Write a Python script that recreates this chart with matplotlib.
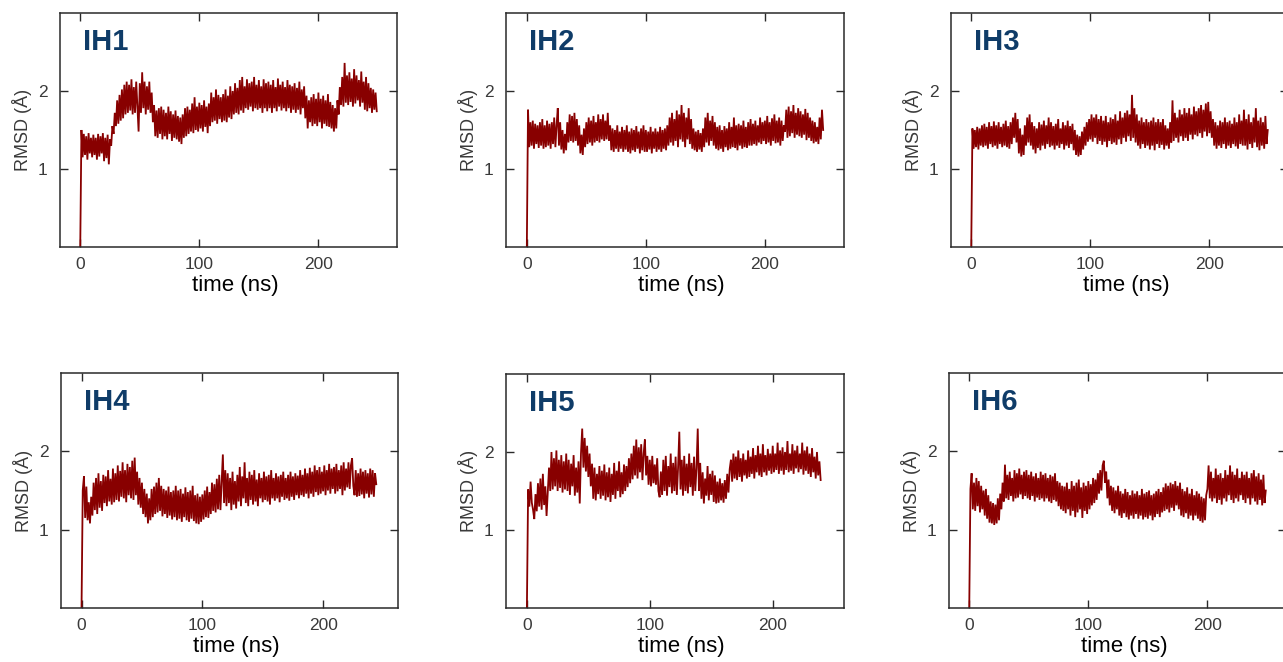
import matplotlib
matplotlib.use("Agg")
import matplotlib.pyplot as plt
import numpy as np

plt.rcParams['font.family'] = ['Liberation Sans', 'DejaVu Sans']

# RMSD traces (Å), one value per ns, starting from the reference frame at t = 0
ih1_rmsd = [
    0.00, 1.50, 1.15, 1.45, 1.18, 1.42, 1.12, 1.46, 1.20, 1.40,
    1.15, 1.44, 1.18, 1.40, 1.12, 1.45, 1.16, 1.42, 1.20, 1.46,
    1.10, 1.40, 1.14, 1.44, 1.06, 1.38, 1.30, 1.55, 1.45, 1.72,
    1.55, 1.88, 1.58, 1.95, 1.62, 2.02, 1.65, 2.08, 1.70, 2.12,
    1.72, 2.08, 1.75, 2.15, 1.70, 2.05, 1.72, 2.12, 1.80, 1.48,
    2.10, 1.72, 2.24, 1.78, 2.12, 1.70, 2.06, 1.76, 2.12, 1.72,
    1.98, 1.60, 1.82, 1.42, 1.75, 1.40, 1.78, 1.45, 1.80, 1.38,
    1.76, 1.42, 1.72, 1.38, 1.80, 1.45, 1.74, 1.36, 1.70, 1.40,
    1.75, 1.38, 1.68, 1.35, 1.66, 1.32, 1.70, 1.40, 1.78, 1.42,
    1.80, 1.45, 1.76, 1.48, 1.84, 1.46, 1.92, 1.50, 1.80, 1.48,
    1.85, 1.52, 1.82, 1.48, 1.88, 1.54, 1.80, 1.46, 1.84, 1.55,
    1.98, 1.60, 1.92, 1.62, 2.02, 1.58, 1.95, 1.64, 1.92, 1.60,
    1.96, 1.62, 2.02, 1.60, 1.94, 1.66, 2.06, 1.64, 2.00, 1.70,
    2.10, 1.72, 2.04, 1.70, 2.14, 1.75, 2.18, 1.72, 2.06, 1.78,
    2.15, 1.76, 2.10, 1.80, 2.12, 1.74, 2.18, 1.78, 2.08, 1.76,
    2.14, 1.78, 2.06, 1.72, 2.15, 1.78, 2.10, 1.74, 2.12, 1.78,
    2.08, 1.72, 2.14, 1.78, 2.05, 1.74, 2.16, 1.80, 2.08, 1.75,
    2.12, 1.78, 2.05, 1.74, 2.14, 1.78, 2.08, 1.72, 2.06, 1.76,
    2.10, 1.72, 2.04, 1.76, 2.12, 1.70, 2.02, 1.78, 2.06, 1.65,
    1.94, 1.52, 1.88, 1.60, 1.92, 1.55, 1.96, 1.58, 1.90, 1.55,
    1.98, 1.60, 1.90, 1.52, 1.94, 1.58, 1.88, 1.55, 1.96, 1.54,
    1.86, 1.52, 1.82, 1.48, 1.78, 1.52, 1.88, 1.70, 2.05, 1.82,
    2.18, 1.80, 2.36, 1.85, 2.20, 1.82, 2.24, 1.86, 2.16, 1.80,
    2.28, 1.84, 2.20, 1.88, 2.14, 1.80, 2.25, 1.85, 2.12, 1.76,
    2.18, 1.74, 2.10, 1.78, 2.04, 1.72, 2.02, 1.76, 1.98, 1.74,
]

ih2_rmsd = [
    0.00, 1.76, 1.28, 1.60, 1.30, 1.62, 1.26, 1.58, 1.32, 1.56,
    1.27, 1.60, 1.30, 1.64, 1.26, 1.56, 1.28, 1.62, 1.30, 1.58,
    1.26, 1.60, 1.32, 1.66, 1.28, 1.56, 1.78, 1.30, 1.60, 1.25,
    1.50, 1.20, 1.45, 1.24, 1.60, 1.34, 1.70, 1.36, 1.68, 1.34,
    1.72, 1.36, 1.64, 1.30, 1.56, 1.20, 1.44, 1.18, 1.52, 1.28,
    1.60, 1.32, 1.66, 1.34, 1.62, 1.30, 1.68, 1.34, 1.60, 1.36,
    1.70, 1.34, 1.64, 1.38, 1.70, 1.36, 1.62, 1.38, 1.72, 1.36,
    1.56, 1.24, 1.52, 1.22, 1.50, 1.26, 1.56, 1.22, 1.48, 1.26,
    1.54, 1.22, 1.50, 1.25, 1.56, 1.22, 1.48, 1.20, 1.52, 1.24,
    1.50, 1.22, 1.55, 1.26, 1.48, 1.20, 1.52, 1.24, 1.56, 1.22,
    1.50, 1.22, 1.48, 1.25, 1.54, 1.20, 1.48, 1.26, 1.52, 1.22,
    1.48, 1.25, 1.54, 1.22, 1.50, 1.26, 1.52, 1.24, 1.56, 1.30,
    1.66, 1.34, 1.72, 1.30, 1.64, 1.36, 1.75, 1.28, 1.70, 1.38,
    1.82, 1.35, 1.72, 1.28, 1.66, 1.38, 1.78, 1.32, 1.64, 1.26,
    1.52, 1.24, 1.48, 1.22, 1.50, 1.25, 1.46, 1.22, 1.52, 1.28,
    1.66, 1.34, 1.72, 1.30, 1.62, 1.36, 1.68, 1.30, 1.60, 1.26,
    1.54, 1.24, 1.56, 1.26, 1.50, 1.22, 1.55, 1.28, 1.52, 1.24,
    1.60, 1.26, 1.54, 1.28, 1.66, 1.27, 1.56, 1.24, 1.58, 1.30,
    1.56, 1.26, 1.62, 1.28, 1.54, 1.27, 1.60, 1.30, 1.64, 1.30,
    1.58, 1.32, 1.62, 1.30, 1.56, 1.34, 1.66, 1.32, 1.60, 1.36,
    1.62, 1.32, 1.68, 1.34, 1.60, 1.30, 1.65, 1.36, 1.70, 1.33,
    1.62, 1.34, 1.66, 1.30, 1.62, 1.36, 1.56, 1.48, 1.76, 1.40,
    1.80, 1.42, 1.74, 1.46, 1.82, 1.40, 1.72, 1.44, 1.78, 1.42,
    1.74, 1.40, 1.70, 1.44, 1.77, 1.37, 1.72, 1.40, 1.66, 1.36,
    1.62, 1.33, 1.60, 1.35, 1.54, 1.32, 1.66, 1.38, 1.76, 1.50,
]

ih3_rmsd = [
    0.00, 1.52, 1.26, 1.50, 1.28, 1.54, 1.25, 1.52, 1.30, 1.56,
    1.28, 1.58, 1.30, 1.54, 1.26, 1.60, 1.32, 1.55, 1.28, 1.61,
    1.30, 1.56, 1.26, 1.60, 1.32, 1.54, 1.28, 1.58, 1.30, 1.62,
    1.28, 1.55, 1.26, 1.60, 1.32, 1.66, 1.40, 1.72, 1.34, 1.64,
    1.20, 1.52, 1.16, 1.44, 1.18, 1.56, 1.30, 1.66, 1.34, 1.70,
    1.30, 1.60, 1.25, 1.55, 1.20, 1.52, 1.27, 1.60, 1.24, 1.57,
    1.30, 1.62, 1.26, 1.56, 1.32, 1.66, 1.28, 1.60, 1.30, 1.55,
    1.25, 1.58, 1.30, 1.64, 1.27, 1.52, 1.32, 1.60, 1.25, 1.56,
    1.30, 1.62, 1.27, 1.55, 1.32, 1.58, 1.24, 1.50, 1.18, 1.44,
    1.16, 1.42, 1.18, 1.48, 1.25, 1.54, 1.30, 1.60, 1.35, 1.64,
    1.38, 1.70, 1.35, 1.66, 1.40, 1.70, 1.32, 1.64, 1.36, 1.68,
    1.31, 1.62, 1.35, 1.68, 1.28, 1.60, 1.36, 1.66, 1.32, 1.64,
    1.34, 1.70, 1.31, 1.62, 1.38, 1.74, 1.32, 1.66, 1.40, 1.72,
    1.35, 1.75, 1.42, 1.70, 1.36, 1.95, 1.40, 1.78, 1.34, 1.70,
    1.30, 1.62, 1.26, 1.66, 1.32, 1.60, 1.27, 1.64, 1.30, 1.60,
    1.25, 1.62, 1.30, 1.66, 1.24, 1.60, 1.32, 1.64, 1.27, 1.60,
    1.31, 1.64, 1.25, 1.56, 1.30, 1.52, 1.26, 1.60, 1.34, 1.88,
    1.36, 1.72, 1.40, 1.66, 1.34, 1.76, 1.42, 1.70, 1.36, 1.78,
    1.40, 1.72, 1.36, 1.78, 1.44, 1.70, 1.38, 1.80, 1.44, 1.74,
    1.42, 1.78, 1.46, 1.82, 1.40, 1.76, 1.48, 1.84, 1.42, 1.86,
    1.46, 1.74, 1.40, 1.64, 1.30, 1.60, 1.26, 1.56, 1.30, 1.62,
    1.27, 1.60, 1.32, 1.66, 1.26, 1.60, 1.30, 1.62, 1.27, 1.58,
    1.32, 1.66, 1.29, 1.60, 1.26, 1.70, 1.32, 1.62, 1.30, 1.76,
    1.30, 1.64, 1.25, 1.70, 1.32, 1.60, 1.27, 1.66, 1.34, 1.78,
    1.28, 1.62, 1.24, 1.66, 1.30, 1.60, 1.26, 1.68, 1.32, 1.50,
]

ih4_rmsd = [
    0.00, 1.50, 1.68, 1.15, 1.55, 1.12, 1.35, 1.08, 1.42, 1.18,
    1.60, 1.25, 1.66, 1.20, 1.72, 1.28, 1.62, 1.24, 1.70, 1.34,
    1.68, 1.30, 1.76, 1.36, 1.65, 1.32, 1.78, 1.35, 1.72, 1.38,
    1.82, 1.36, 1.75, 1.42, 1.86, 1.40, 1.76, 1.35, 1.84, 1.44,
    1.80, 1.40, 1.88, 1.38, 1.92, 1.44, 1.74, 1.32, 1.66, 1.28,
    1.60, 1.20, 1.52, 1.16, 1.46, 1.08, 1.40, 1.12, 1.52, 1.16,
    1.55, 1.20, 1.60, 1.22, 1.66, 1.24, 1.56, 1.17, 1.52, 1.20,
    1.50, 1.15, 1.55, 1.18, 1.48, 1.13, 1.50, 1.16, 1.56, 1.12,
    1.50, 1.14, 1.52, 1.10, 1.46, 1.16, 1.54, 1.12, 1.48, 1.10,
    1.50, 1.14, 1.56, 1.11, 1.44, 1.08, 1.46, 1.07, 1.42, 1.10,
    1.45, 1.13, 1.50, 1.16, 1.55, 1.15, 1.48, 1.20, 1.60, 1.24,
    1.58, 1.22, 1.65, 1.26, 1.70, 1.25, 1.62, 1.96, 1.34, 1.76,
    1.30, 1.72, 1.34, 1.66, 1.25, 1.74, 1.32, 1.62, 1.27, 1.70,
    1.36, 1.80, 1.30, 1.68, 1.40, 1.86, 1.34, 1.66, 1.30, 1.74,
    1.38, 1.70, 1.32, 1.76, 1.36, 1.64, 1.30, 1.72, 1.40, 1.66,
    1.35, 1.74, 1.38, 1.68, 1.36, 1.70, 1.32, 1.76, 1.40, 1.66,
    1.37, 1.72, 1.40, 1.68, 1.35, 1.70, 1.42, 1.74, 1.38, 1.66,
    1.40, 1.70, 1.37, 1.74, 1.42, 1.68, 1.38, 1.72, 1.44, 1.69,
    1.40, 1.76, 1.44, 1.70, 1.42, 1.78, 1.46, 1.72, 1.40, 1.79,
    1.46, 1.74, 1.42, 1.82, 1.48, 1.76, 1.44, 1.80, 1.46, 1.74,
    1.49, 1.82, 1.44, 1.76, 1.50, 1.84, 1.46, 1.78, 1.52, 1.80,
    1.46, 1.84, 1.49, 1.76, 1.52, 1.82, 1.44, 1.86, 1.50, 1.78,
    1.54, 1.86, 1.52, 1.82, 1.91, 1.56, 1.44, 1.76, 1.42, 1.72,
    1.43, 1.78, 1.45, 1.74, 1.40, 1.76, 1.46, 1.72, 1.41, 1.78,
    1.45, 1.76, 1.42, 1.72, 1.58,
]

ih5_rmsd = [
    0.00, 1.52, 1.30, 1.62, 1.35, 1.26, 1.14, 1.46, 1.24, 1.60,
    1.30, 1.66, 1.26, 1.72, 1.32, 1.56, 1.18, 1.48, 1.80, 1.50,
    2.00, 1.52, 1.92, 1.56, 2.02, 1.50, 1.90, 1.54, 1.96, 1.48,
    1.88, 1.52, 1.98, 1.50, 1.90, 1.45, 1.85, 1.56, 1.96, 1.44,
    1.80, 1.48, 1.88, 1.34, 1.98, 2.30, 1.80, 2.18, 1.75, 2.08,
    1.68, 1.98, 1.56, 1.85, 1.40, 1.80, 1.38, 1.72, 1.46, 1.82,
    1.40, 1.76, 1.44, 1.84, 1.38, 1.74, 1.42, 1.80, 1.36, 1.72,
    1.45, 1.86, 1.40, 1.76, 1.50, 1.88, 1.42, 1.74, 1.46, 1.84,
    1.50, 1.82, 1.55, 1.92, 1.60, 1.98, 1.65, 2.08, 1.70, 2.16,
    1.66, 2.06, 1.74, 2.10, 1.64, 1.98, 2.16, 1.70, 1.95, 1.58,
    1.90, 1.56, 1.95, 1.60, 1.84, 1.58, 1.92, 1.50, 1.42, 1.75,
    1.45, 1.90, 1.50, 1.95, 1.44, 1.82, 1.55, 1.98, 1.47, 1.86,
    1.50, 1.94, 1.45, 1.80, 2.26, 1.52, 1.90, 1.44, 1.95, 1.50,
    1.85, 1.47, 1.98, 1.55, 1.86, 1.44, 1.94, 1.50, 1.80, 2.30,
    1.50, 1.86, 1.40, 1.74, 1.34, 1.66, 1.44, 1.82, 1.38, 1.72,
    1.45, 1.76, 1.36, 1.70, 1.34, 1.62, 1.35, 1.66, 1.38, 1.60,
    1.35, 1.64, 1.40, 1.72, 1.48, 1.78, 1.90, 1.62, 1.98, 1.66,
    1.94, 1.64, 2.02, 1.68, 1.92, 1.62, 1.98, 1.70, 1.90, 1.66,
    2.02, 1.68, 1.94, 1.72, 2.05, 1.66, 1.96, 1.74, 2.08, 1.70,
    1.98, 1.68, 2.10, 1.74, 1.96, 1.70, 2.04, 1.76, 1.98, 1.72,
    2.08, 1.74, 1.98, 1.77, 2.12, 1.72, 2.02, 1.76, 2.06, 1.71,
    2.00, 1.77, 2.14, 1.74, 1.98, 1.76, 2.10, 1.72, 2.02, 1.79,
    2.08, 1.74, 1.98, 1.78, 2.12, 1.71, 2.02, 1.76, 2.07, 1.72,
    1.98, 1.68, 2.05, 1.74, 1.94, 1.66, 2.00, 1.70, 1.88, 1.64,
]

ih6_rmsd = [
    0.00, 1.52, 1.72, 1.26, 1.60, 1.24, 1.66, 1.30, 1.62, 1.22,
    1.56, 1.26, 1.50, 1.18, 1.52, 1.14, 1.44, 1.09, 1.36, 1.08,
    1.34, 1.06, 1.32, 1.08, 1.40, 1.12, 1.46, 1.26, 1.60, 1.36,
    1.83, 1.40, 1.70, 1.38, 1.74, 1.43, 1.66, 1.36, 1.76, 1.40,
    1.72, 1.41, 1.78, 1.45, 1.70, 1.39, 1.74, 1.43, 1.76, 1.40,
    1.70, 1.38, 1.74, 1.43, 1.68, 1.36, 1.72, 1.41, 1.66, 1.38,
    1.74, 1.40, 1.70, 1.36, 1.72, 1.40, 1.66, 1.36, 1.70, 1.34,
    1.68, 1.38, 1.72, 1.36, 1.62, 1.30, 1.60, 1.26, 1.56, 1.24,
    1.55, 1.21, 1.60, 1.26, 1.52, 1.18, 1.62, 1.24, 1.56, 1.16,
    1.60, 1.22, 1.64, 1.26, 1.54, 1.15, 1.60, 1.24, 1.56, 1.20,
    1.62, 1.26, 1.58, 1.31, 1.66, 1.34, 1.64, 1.38, 1.72, 1.46,
    1.76, 1.50, 1.82, 1.88, 1.60, 1.74, 1.40, 1.64, 1.31, 1.56,
    1.24, 1.54, 1.21, 1.50, 1.26, 1.56, 1.18, 1.49, 1.15, 1.46,
    1.21, 1.52, 1.16, 1.48, 1.13, 1.44, 1.18, 1.50, 1.14, 1.46,
    1.20, 1.49, 1.14, 1.44, 1.18, 1.52, 1.13, 1.46, 1.16, 1.48,
    1.14, 1.50, 1.18, 1.44, 1.12, 1.46, 1.16, 1.49, 1.20, 1.52,
    1.16, 1.48, 1.22, 1.54, 1.24, 1.59, 1.26, 1.56, 1.22, 1.60,
    1.28, 1.58, 1.24, 1.62, 1.31, 1.56, 1.26, 1.60, 1.18, 1.52,
    1.16, 1.49, 1.21, 1.54, 1.14, 1.46, 1.18, 1.52, 1.12, 1.44,
    1.18, 1.49, 1.14, 1.46, 1.11, 1.42, 1.09, 1.40, 1.12, 1.44,
    1.52, 1.82, 1.40, 1.74, 1.36, 1.66, 1.40, 1.78, 1.34, 1.70,
    1.38, 1.72, 1.32, 1.66, 1.40, 1.76, 1.36, 1.70, 1.44, 1.82,
    1.38, 1.74, 1.34, 1.70, 1.40, 1.78, 1.36, 1.66, 1.44, 1.74,
    1.38, 1.70, 1.34, 1.74, 1.40, 1.66, 1.32, 1.72, 1.40, 1.76,
    1.36, 1.68, 1.32, 1.72, 1.38, 1.64, 1.31, 1.70, 1.34, 1.50,
]

panel_names = ["IH1", "IH2", "IH3", "IH4", "IH5", "IH6"]
panel_series = [ih1_rmsd, ih2_rmsd, ih3_rmsd, ih4_rmsd, ih5_rmsd, ih6_rmsd]
time_step_ns = 1.0

x_ticks = [0, 100, 200]
x_tick_labels = ["0", "100", "200"]
y_ticks = [1, 2]
y_tick_labels = ["1", "2"]
x_label = "time (ns)"
y_label = "RMSD (Å)"

LINE_COLOR = "#880000"
NAME_COLOR = "#0f3c68"
SPINE_COLOR = "#2a2a2a"

W, H = 1283, 662
fig = plt.figure(figsize=(W / 100, H / 100), dpi=100)

# panel frames in pixels: (left, top, width, height)
frames = [
    (60, 13, 337, 234), (506, 13, 338, 234), (951, 13, 337, 234),
    (61, 373, 337, 235), (506, 374, 338, 234), (949, 373, 337, 235),
]
xlims = [(-17, 266), (-17.5, 266.5), (-17, 266),
         (-17, 262), (-17, 258), (-17, 266)]

for name, values, (l, t, w, h), xl in zip(panel_names, panel_series, frames, xlims):
    ax = fig.add_axes([l / W, 1 - (t + h) / H, w / W, h / H])
    times = np.arange(len(values)) * time_step_ns
    ax.plot(times, values, color=LINE_COLOR, lw=1.3, solid_joinstyle="miter")

    ax.set_xlim(*xl)
    ax.set_ylim(0, 3)
    ax.set_xticks(x_ticks)
    ax.set_xticklabels(x_tick_labels)
    ax.set_yticks(y_ticks)
    ax.set_yticklabels(y_tick_labels)
    ax.tick_params(axis="both", direction="in", length=6, width=1.0,
                   color=SPINE_COLOR, labelcolor="#3a3a3a", labelsize=12.5,
                   top=True, right=True)
    ax.tick_params(axis="x", pad=7)
    ax.tick_params(axis="y", pad=9)
    for s in ax.spines.values():
        s.set_color(SPINE_COLOR)
        s.set_linewidth(1.1)

    ax.set_xlabel(x_label, fontsize=16, color="black", va="top")
    ax.xaxis.set_label_coords(0.52, -0.118)
    ax.set_ylabel(y_label, fontsize=13, color="#3a3a3a")
    ax.yaxis.set_label_coords(-0.083, 0.5)

    ax.text(0.067, 0.842, name, transform=ax.transAxes, fontsize=21,
            fontweight="bold", color=NAME_COLOR, ha="left", va="baseline")

fig.savefig("out.png", dpi=100)
